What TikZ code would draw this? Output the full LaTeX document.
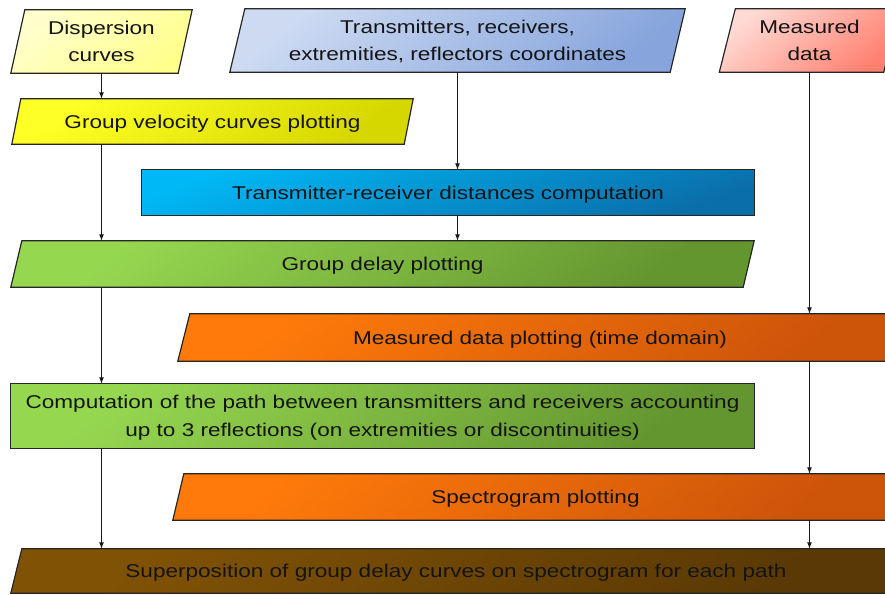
\documentclass[tikz,border=0pt]{standalone}
\usepackage{fontspec}
\setmainfont{Liberation Sans}[FakeStretch=1.22]
\usetikzlibrary{arrows.meta,calc,backgrounds}

% fill colours: light (top left) and dark (bottom right) end of each gradient
\definecolor{dispA}{RGB}{255,255,205}
\definecolor{dispB}{RGB}{255,255,140}
\definecolor{coordA}{RGB}{205,218,242}
\definecolor{coordB}{RGB}{135,165,220}
\definecolor{measA}{RGB}{255,218,212}
\definecolor{measB}{RGB}{255,128,112}
\definecolor{gvcA}{RGB}{255,255,40}
\definecolor{gvcB}{RGB}{215,215,0}
\definecolor{distA}{RGB}{0,184,245}
\definecolor{distB}{RGB}{10,110,170}
\definecolor{grnA}{RGB}{150,215,80}
\definecolor{grnB}{RGB}{100,150,48}
\definecolor{orgA}{RGB}{255,122,10}
\definecolor{orgB}{RGB}{205,85,10}
\definecolor{brnA}{RGB}{128,82,5}
\definecolor{brnB}{RGB}{90,57,5}

\tikzset{
  box/.style={inner sep=0pt, align=center, text=black!92, text depth=0pt,
    font=\fontsize{18.5}{27.5}\selectfont},
  outline/.style={draw=black!85, line width=1.2pt},
  dispfill/.style={outline, top color=dispA, bottom color=dispB, shading angle=40},
  coordfill/.style={outline, top color=coordA, bottom color=coordB, shading angle=40},
  measfill/.style={outline, top color=measA, bottom color=measB, shading angle=40},
  gvcfill/.style={outline, top color=gvcA, bottom color=gvcB, shading angle=40},
  distfill/.style={outline, top color=distA, bottom color=distB, shading angle=20},
  grnfill/.style={outline, top color=grnA, bottom color=grnB, shading angle=40},
  orgfill/.style={outline, top color=orgA, bottom color=orgB, shading angle=40},
  brnfill/.style={outline, top color=brnA, bottom color=brnB, shading angle=40},
  arr/.style={draw=black!90, line width=1.1pt, -{Latex[length=6.5pt,width=5pt]}}
}

\begin{document}
\begin{tikzpicture}[x=1pt,y=-1pt]
\useasboundingbox (0,0) rectangle (885,594);

% text nodes; each spans the full extent of its box
\node[box, minimum width=181, minimum height=63] (disp)  at (101.5,41.5) {Dispersion\\curves};
\node[box, minimum width=455, minimum height=63] (coord) at (457.5,40.5) {Transmitters, receivers,\\extremities, reflectors coordinates};
\node[box, minimum width=180, minimum height=63] (meas)  at (809.5,40.5)  {Measured\\data};
\node[box, minimum width=401, minimum height=45] (gvc)   at (212.5,121.5) {Group velocity curves plotting};
\node[box, minimum width=612, minimum height=45] (dist)  at (448,192.5) {Transmitter-receiver distances computation};
\node[box, minimum width=743, minimum height=46] (gd)    at (382.5,264) {Group delay plotting};
\node[box, minimum width=724, minimum height=47] (mdp)   at (540,337.5) {Measured data plotting (time domain)};
\node[box, minimum width=743, minimum height=64] (comp)  at (382.5,416) {Computation of the path between transmitters and receivers accounting\\up to 3 reflections (on extremities or discontinuities)};
\node[box, minimum width=725, minimum height=46] (spec)  at (535.5,497) {Spectrogram plotting};
\node[box, minimum width=890, minimum height=44] (sup)   at (456,571) {Superposition of group delay curves on spectrogram for each path};

% box shapes behind the text
\begin{scope}[on background layer]
  \clip (0,0) rectangle (885,594);
  \path[dispfill]  (disp.south west)  -- ($(disp.north west)+(14,0)$)  -- (disp.north east)  -- ($(disp.south east)-(14,0)$)  -- cycle;
  \path[coordfill] (coord.south west) -- ($(coord.north west)+(15,0)$) -- (coord.north east) -- ($(coord.south east)-(15,0)$) -- cycle;
  \path[measfill]  (meas.south west)  -- ($(meas.north west)+(16,0)$)  -- (meas.north east)  -- ($(meas.south east)-(16,0)$)  -- cycle;
  \path[gvcfill]   (gvc.south west)   -- ($(gvc.north west)+(9,0)$)    -- (gvc.north east)   -- ($(gvc.south east)-(9,0)$)    -- cycle;
  \path[distfill]  (dist.south west) rectangle (dist.north east);
  \path[grnfill]   (gd.south west)    -- ($(gd.north west)+(11,0)$)    -- (gd.north east)    -- ($(gd.south east)-(11,0)$)    -- cycle;
  \path[orgfill]   (mdp.south west)   -- ($(mdp.north west)+(12,0)$)   -- (mdp.north east)   -- ($(mdp.south east)-(12,0)$)   -- cycle;
  \path[grnfill]   (comp.south west) rectangle (comp.north east);
  \path[orgfill]   (spec.south west)  -- ($(spec.north west)+(11,0)$)  -- (spec.north east)  -- ($(spec.south east)-(11,0)$)  -- cycle;
  \path[brnfill]   (sup.south west)   -- ($(sup.north west)+(11,0)$)   -- (sup.north east)   -- ($(sup.south east)-(11,0)$)   -- cycle;
\end{scope}

% left column
\draw[arr] (disp.south) -- (disp.south |- gvc.north);
\draw[arr] (gvc.south -| disp.south) -- (disp.south |- gd.north);
\draw[arr] (gd.south -| disp.south) -- (disp.south |- comp.north);
\draw[arr] (comp.south -| disp.south) -- (disp.south |- sup.north);
% middle column
\draw[arr] (coord.south) -- (coord.south |- dist.north);
\draw[arr] (dist.south -| coord.south) -- (coord.south |- gd.north);
% right column
\draw[arr] (meas.south) -- (meas.south |- mdp.north);
\draw[arr] (mdp.south -| meas.south) -- (meas.south |- spec.north);
\draw[arr] (spec.south -| meas.south) -- (meas.south |- sup.north);
\end{tikzpicture}
\end{document}
